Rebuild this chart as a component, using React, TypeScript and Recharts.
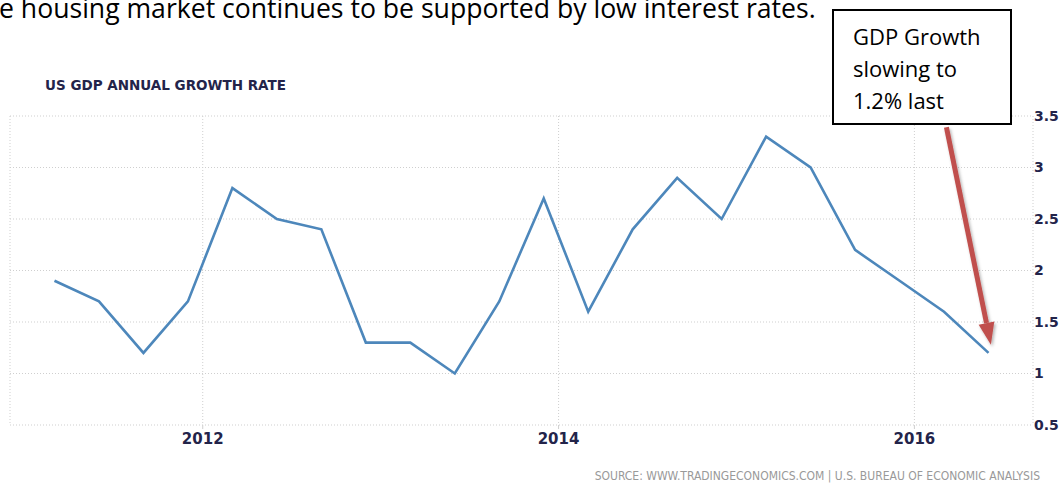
// US GDP annual growth rate (quarterly, y/y) with a call-out box and red arrow on the last print.
import { CartesianGrid, Line, LineChart, ReferenceLine, XAxis, YAxis } from 'recharts'

const QUARTERS = [
  '2011 Q1', '2011 Q2', '2011 Q3', '2011 Q4',
  '2012 Q1', '2012 Q2', '2012 Q3', '2012 Q4',
  '2013 Q1', '2013 Q2', '2013 Q3', '2013 Q4',
  '2014 Q1', '2014 Q2', '2014 Q3', '2014 Q4',
  '2015 Q1', '2015 Q2', '2015 Q3', '2015 Q4',
  '2016 Q1', '2016 Q2',
]
const GROWTH = [
  1.9, 1.7, 1.2, 1.7,
  2.8, 2.5, 2.4, 1.3,
  1.3, 1.0, 1.7, 2.7,
  1.6, 2.4, 2.9, 2.5,
  3.3, 3.0, 2.2, 1.9,
  1.6, 1.2,
]
const YEAR_TICKS = [2012, 2014, 2016]
const RATE_TICKS = [0.5, 1, 1.5, 2, 2.5, 3, 3.5]

// annotation arrow, in data coordinates (time, %)
const ARROW_FROM = { x: 2016.18, y: 3.39 }
const ARROW_TO = { x: 2016.43, y: 1.28 }

const LINE = '#4d87bb'
const GRID = '#cfcfcf'
const NAVY = '#23244a'
const RED = '#c0504d'

// each quarter is plotted at the start of its last month
const data = QUARTERS.map((q, i) => {
  const [y, qq] = q.split(' Q')
  return { t: Number(y) + (Number(qq) * 3 - 1) / 12, value: GROWTH[i] }
})

function ArrowShape(p: any) {
  const { x1, y1, x2, y2 } = p
  const dx = x2 - x1
  const dy = y2 - y1
  const len = Math.hypot(dx, dy)
  const ux = dx / len
  const uy = dy / len
  const head = 22
  const hw = 8
  const bx = x2 - ux * head
  const by = y2 - uy * head
  const nx = -uy
  const ny = ux
  return (
    <g filter="url(#arrowShadow)">
      <line x1={x1} y1={y1} x2={bx} y2={by} stroke={RED} strokeWidth={5} />
      <polygon
        points={`${x2},${y2} ${bx + nx * hw},${by + ny * hw} ${bx - nx * hw},${by - ny * hw}`}
        fill={RED}
      />
    </g>
  )
}

export default function App() {
  return (
    <div
      style={{
        position: 'fixed',
        left: 0,
        top: 0,
        width: 1062,
        height: 484,
        background: '#fff',
        overflow: 'hidden',
      }}
    >
      <div
        style={{
          position: 'absolute',
          left: -1,
          top: -7,
          fontFamily: '"Open Sans", sans-serif',
          fontSize: 26.6,
          lineHeight: '30px',
          whiteSpace: 'nowrap',
          color: '#000',
        }}
      >
        e housing market continues to be supported by low interest rates.
      </div>

      <div
        style={{
          position: 'absolute',
          left: 45,
          top: 77,
          fontFamily: '"DejaVu Sans", sans-serif',
          fontSize: 13.5,
          fontWeight: 'bold',
          color: NAVY,
          whiteSpace: 'nowrap',
        }}
      >
        US GDP ANNUAL GROWTH RATE
      </div>

      <div style={{ position: 'absolute', left: 0, top: 0 }}>
        <LineChart width={1062} height={484} data={data} margin={{ top: 116, right: 0, bottom: 29, left: 10 }}>
          <defs>
            <filter id="arrowShadow" x="-50%" y="-10%" width="200%" height="120%">
              <feDropShadow dx="1.5" dy="2" stdDeviation="1.5" floodColor="#000" floodOpacity="0.3" />
            </filter>
          </defs>
          <CartesianGrid stroke={GRID} strokeDasharray="1 2" />
          <XAxis
            dataKey="t"
            type="number"
            domain={[2011 - 1 / 12, 2016 + 8 / 12]}
            ticks={YEAR_TICKS}
            allowDataOverflow
            axisLine={false}
            tickLine={{ stroke: GRID }}
            tickSize={4}
            tickMargin={4}
            height={30}
            tick={{ fill: NAVY, fontSize: 15, fontWeight: 'bold', fontFamily: '"DejaVu Sans", sans-serif' }}
          />
          <YAxis
            orientation="right"
            domain={[0.5, 3.5]}
            ticks={RATE_TICKS}
            axisLine={false}
            tickLine={false}
            tickSize={0}
            tickMargin={1}
            width={29}
            tick={{ fill: NAVY, fontSize: 14, fontWeight: 'bold', fontFamily: '"DejaVu Sans", sans-serif' }}
          />
          <Line
            type="linear"
            dataKey="value"
            stroke={LINE}
            strokeWidth={2.6}
            dot={false}
            activeDot={false}
            isAnimationActive={false}
          />
          <ReferenceLine
            segment={[ARROW_FROM, ARROW_TO]}
            ifOverflow="visible"
            shape={ArrowShape}
          />
        </LineChart>
      </div>

      <div
        style={{
          position: 'absolute',
          left: 832,
          top: 9,
          width: 180,
          height: 116,
          boxSizing: 'border-box',
          border: '2px solid #000',
          background: '#fff',
          paddingLeft: 19,
          paddingTop: 9,
          fontFamily: '"Open Sans", sans-serif',
          fontSize: 22,
          lineHeight: '32px',
          color: '#000',
          whiteSpace: 'nowrap',
        }}
      >
        <div>GDP Growth</div>
        <div>slowing to</div>
        <div>1.2% last</div>
      </div>

      <div
        style={{
          position: 'absolute',
          right: 22,
          top: 469,
          fontFamily: '"Liberation Sans Narrow", "DejaVu Sans Condensed", sans-serif',
          fontSize: 12,
          color: '#999',
          whiteSpace: 'nowrap',
        }}
      >
        SOURCE: WWW.TRADINGECONOMICS.COM | U.S. BUREAU OF ECONOMIC ANALYSIS
      </div>
    </div>
  )
}
